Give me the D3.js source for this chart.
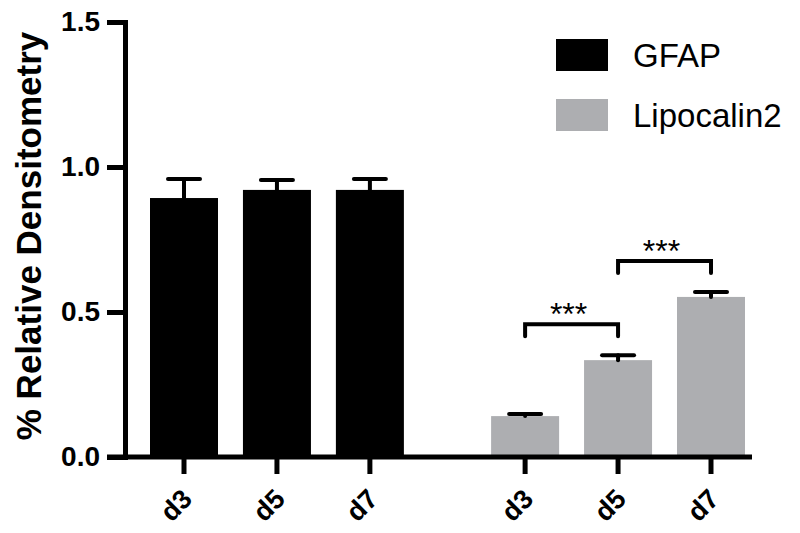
<!DOCTYPE html>
<html lang='en'>
<head>
    <meta charset='UTF-8' />
    <title>GFAP / Lipocalin2 densitometry</title>
    <script src="https://cdn.jsdelivr.net/npm/d3@7"></script>
    <style>
        html, body { margin: 0; background: white; }
        svg { display: block; font-family: "Liberation Sans", Arial, sans-serif; }
    </style>
</head>
<body>
<div id="container"></div>
<script>
    // data
    const groups = ["GFAP", "Lipocalin2"];
    const days = ["d3", "d5", "d7"];
    const gfapMean = [0.893, 0.921, 0.921];
    const gfapErr = [0.066, 0.034, 0.038];
    const lcnMean = [0.141, 0.334, 0.552];
    const lcnErr = [0.007, 0.017, 0.017];
    const yTicks = [0, 0.5, 1.0, 1.5];
    const groupColors = ["#000000", "#adaeb1"];
    // significance comparisons inside the Lipocalin2 group (day index)
    const sigFrom = [0, 1];
    const sigTo = [1, 2];
    const sigLabel = ["***", "***"];

    const width = 800, height = 533;
    const groupGap = 3.67; // slot offset of the second group

    const svg = d3.select("#container").append("svg")
        .attr("width", width)
        .attr("height", height);

    const y = d3.scaleLinear().domain([0, 1.5]).range([457, 22]);
    const x = d3.scaleLinear().domain([0, 2 + groupGap]).range([184, 711]);
    const barW = 68;

    // flatten bars
    const bars = [];
    [gfapMean, lcnMean].forEach((means, g) => {
        const errs = g === 0 ? gfapErr : lcnErr;
        means.forEach((m, i) => {
            bars.push({ group: g, day: days[i], slot: g * groupGap + i, mean: m, err: errs[i] });
        });
    });

    // bars
    svg.append("g").selectAll("rect")
        .data(bars)
        .join("rect")
        .attr("x", d => x(d.slot) - barW / 2)
        .attr("width", barW)
        .attr("y", d => y(d.mean))
        .attr("height", d => y(0) - y(d.mean))
        .attr("fill", d => groupColors[d.group]);

    // error bars (upper only)
    const eb = svg.append("g")
        .attr("stroke", "black")
        .attr("stroke-width", 4)
        .attr("stroke-linecap", "round");
    eb.selectAll("line.v")
        .data(bars)
        .join("line")
        .attr("class", "v")
        .attr("x1", d => x(d.slot)).attr("x2", d => x(d.slot))
        .attr("y1", d => y(d.mean)).attr("y2", d => y(d.mean + d.err));
    eb.selectAll("line.h")
        .data(bars)
        .join("line")
        .attr("class", "h")
        .attr("x1", d => x(d.slot) - 16).attr("x2", d => x(d.slot) + 16)
        .attr("y1", d => y(d.mean + d.err)).attr("y2", d => y(d.mean + d.err));

    // y axis
    const yAxis = svg.append("g")
        .attr("transform", "translate(125,0)")
        .call(d3.axisLeft(y).tickValues(yTicks).tickFormat(d3.format(".1f")).tickSize(18).tickSizeOuter(0).tickPadding(7));
    yAxis.select(".domain").attr("stroke-width", 5).attr("stroke-linecap", "square");
    yAxis.selectAll(".tick line").attr("stroke-width", 5);
    yAxis.selectAll(".tick text")
        .attr("font-size", 28)
        .attr("font-weight", "bold")
        .attr("fill", "black")
        .attr("font-family", "Liberation Sans, Arial, sans-serif");

    // x axis line and ticks
    svg.append("line")
        .attr("x1", 107).attr("x2", 752)
        .attr("y1", y(0)).attr("y2", y(0))
        .attr("stroke", "black").attr("stroke-width", 5);
    svg.append("g").selectAll("line")
        .data(bars)
        .join("line")
        .attr("x1", d => x(d.slot)).attr("x2", d => x(d.slot))
        .attr("y1", y(0)).attr("y2", y(0) + 17)
        .attr("stroke", "black").attr("stroke-width", 5);
    svg.append("g").selectAll("text")
        .data(bars)
        .join("text")
        .attr("transform", d => `translate(${x(d.slot) + 3},${y(0) + 37}) rotate(-45)`)
        .attr("text-anchor", "end")
        .attr("dy", "0.35em")
        .attr("font-size", 27)
        .attr("font-weight", "bold")
        .text(d => d.day);

    // y axis title
    svg.append("text")
        .attr("transform", `translate(41,236) rotate(-90)`)
        .attr("text-anchor", "middle")
        .attr("font-size", 35)
        .attr("font-weight", "bold")
        .text("% Relative Densitometry");

    // significance brackets
    const sig = sigFrom.map((f, k) => {
        const t = sigTo[k];
        const top = Math.max(lcnMean[f] + lcnErr[f], lcnMean[t] + lcnErr[t]);
        return { x1: x(groupGap + f), x2: x(groupGap + t), level: top + 0.107, label: sigLabel[k] };
    });
    const sg = svg.append("g");
    sg.selectAll("path")
        .data(sig)
        .join("path")
        .attr("d", d => `M${d.x1},${y(d.level) + 12}V${y(d.level)}H${d.x2}V${y(d.level) + 12}`)
        .attr("fill", "none")
        .attr("stroke", "black")
        .attr("stroke-width", 4)
        .attr("stroke-linecap", "round");
    sg.selectAll("text")
        .data(sig)
        .join("text")
        .attr("x", d => (d.x1 + d.x2) / 2 - 3)
        .attr("y", d => y(d.level) + 1)
        .attr("text-anchor", "middle")
        .attr("font-size", 32)
        .text(d => d.label);

    // legend
    const lg = svg.append("g").selectAll("g")
        .data(groups)
        .join("g")
        .attr("transform", (d, i) => `translate(556,${39 + i * 60})`);
    lg.append("rect")
        .attr("width", 52).attr("height", 32)
        .attr("fill", (d, i) => groupColors[i]);
    lg.append("text")
        .attr("x", 77).attr("y", 28)
        .attr("font-size", 33)
        .text(d => d);
</script>
</body>
</html>
